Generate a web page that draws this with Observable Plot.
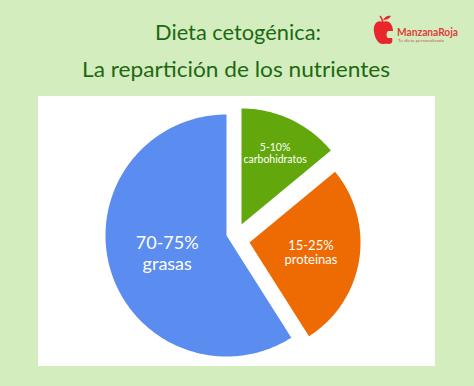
<!DOCTYPE html>
<html>
<head>
<meta charset="utf-8">
<script src="https://cdn.jsdelivr.net/npm/d3@7"></script>
<script src="https://cdn.jsdelivr.net/npm/@observablehq/plot@0.6"></script>
<style>
  html, body { margin: 0; padding: 0; }
  body { width: 474px; height: 386px; background: #d4edbf; position: relative; overflow: hidden; font-family: Lato, sans-serif; }
  #head { position: absolute; left: 0; top: 0; }
  #chart { position: absolute; left: 38px; top: 96px; width: 397px; height: 270px; background: #ffffff; }
  #chart svg { display: block; background: #ffffff; }
</style>
</head>
<body>
<svg id="head" width="474" height="96" xmlns="http://www.w3.org/2000/svg">
  <text x="238" y="40" text-anchor="middle" font-family="Lato" font-size="22" fill="#1d6912" textLength="166" lengthAdjust="spacingAndGlyphs">Dieta cetogénica:</text>
  <text x="236" y="77" text-anchor="middle" font-family="Lato" font-size="22" fill="#1d6912" textLength="308" lengthAdjust="spacingAndGlyphs">La repartición de los nutrientes</text>
  <g>
    <path d="M383 22 C376 19 373 26 374 32 C375 39 379 45 384 44 C386 43.5 387 43.5 389 44 C392 44 393 41 392 38 L388 38 C386 37 386 33 388 31 L393 31 C393 25 389 19 383 22 Z" fill="#e8262c"/>
    <path d="M383 22 C382 19 381 17 380 16" stroke="#e8262c" stroke-width="1.6" fill="none"/>
    <path d="M383 20 C385 16 389 15 391 16 C389 19 386 20 383 20 Z" fill="#e8262c"/>
    <text x="397" y="36" font-family="Lato" font-weight="bold" font-size="11" fill="#e23a3a" textLength="61" lengthAdjust="spacingAndGlyphs">ManzanaRoja</text>
    <text x="398" y="42" font-family="Lato" font-size="4.5" fill="#c75a5a" textLength="46" lengthAdjust="spacingAndGlyphs">Tu dieta personalizada</text>
  </g>
</svg>
<div id="chart"></div>
<script>
// ---- data ----
const categories  = ["carbohidratos", "proteinas", "grasas"];
const shares      = [14, 27, 59];               // drawn slice sizes, % of the circle (clockwise from 12 o'clock)
const rangeLabels = ["5-10%", "15-25%", "70-75%"];
const colors      = ["#62a80c", "#ee6a02", "#5b8cef"];

// ---- layout (pixels-as-data units, pie centre at 0,0) ----
const W = 397, H = 270, cx = 188, cy = 139;
const radius  = {carbohidratos: 116, proteinas: 111, grasas: 121};
const offset  = {carbohidratos: [15, 11], proteinas: [23, -7], grasas: [0, 0]};
const labelR  = {carbohidratos: 0.68, proteinas: 0.56, grasas: 0.51};
const labelFs = {carbohidratos: 10.5, proteinas: 13, grasas: 18};

const total = d3.sum(shares);
const polys = [];
const labels = [];
let acc = 0;
categories.forEach((c, i) => {
  const a0 = acc / total * 2 * Math.PI;
  acc += shares[i];
  const a1 = acc / total * 2 * Math.PI;
  const [ox, oy] = offset[c];
  const r = radius[c];
  polys.push({cat: c, x: ox, y: oy});
  const n = Math.max(2, Math.ceil((a1 - a0) / (Math.PI / 180)));
  for (let k = 0; k <= n; k++) {
    const a = a0 + (a1 - a0) * k / n;
    polys.push({cat: c, x: ox + r * Math.sin(a), y: oy + r * Math.cos(a)});
  }
  const am = (a0 + a1) / 2;
  labels.push({cat: c, text: rangeLabels[i] + "\n" + c,
               x: ox + r * labelR[c] * Math.sin(am), y: oy + r * labelR[c] * Math.cos(am)});
});

const marks = [
  Plot.line(polys, {x: "x", y: "y", z: "cat", fill: "cat", stroke: "none", curve: "linear-closed"})
];
for (const l of labels) {
  marks.push(Plot.text([l], {x: "x", y: "y", text: "text", fill: "white",
    fontSize: labelFs[l.cat], lineHeight: 1.15,
    fontFamily: "Lato", textAnchor: "middle"}));
}

const chart = Plot.plot({
  width: W, height: H,
  margin: 0,
  x: {domain: [-cx, W - cx], axis: null},
  y: {domain: [-(H - cy), cy], axis: null},
  color: {domain: categories, range: colors},
  style: {background: "#ffffff"},
  marks
});
document.getElementById("chart").appendChild(chart);
</script>
</body>
</html>
